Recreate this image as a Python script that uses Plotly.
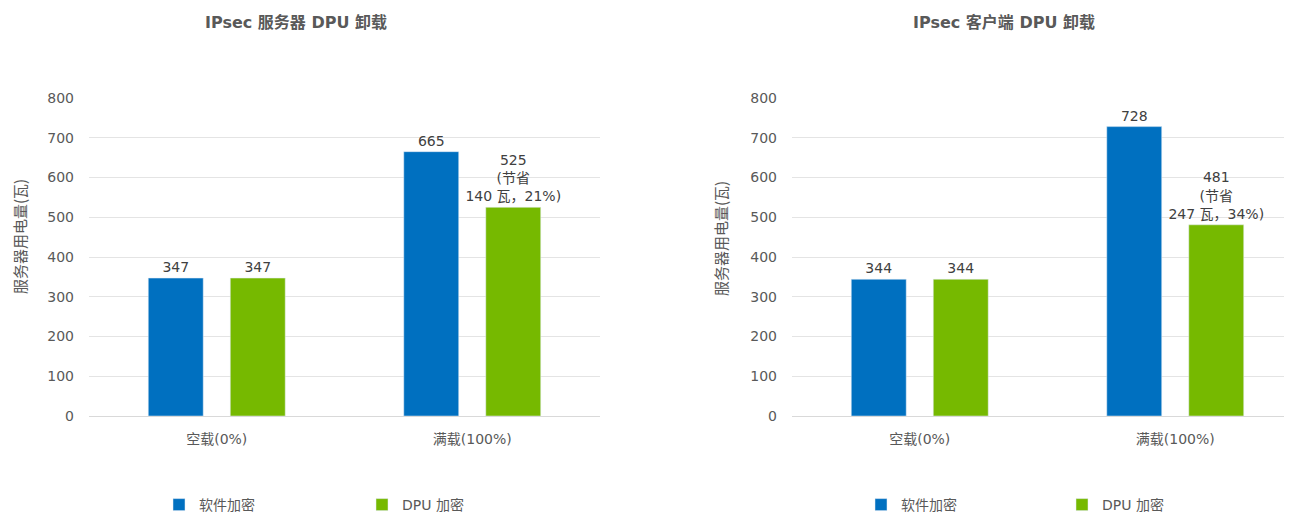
import plotly.graph_objects as go

categories = ["空载(0%)", "满载(100%)"]
series_names = ["软件加密", "DPU 加密"]
colors = ["#0070C0", "#76B900"]

server_sw = [347, 665]
server_dpu = [347, 525]
server_dpu_labels = ["347", "525<br>(节省<br>140 瓦，21%)"]

client_sw = [344, 728]
client_dpu = [344, 481]
client_dpu_labels = ["344", "481<br>(节省<br>247 瓦，34%)"]

titles = ["IPsec 服务器 DPU 卸载", "IPsec 客户端 DPU 卸载"]
y_title = "服务器用电量(瓦)"
y_ticks = [0, 100, 200, 300, 400, 500, 600, 700, 800]

FONT = "DejaVu Sans, Noto Sans CJK SC"
# page body has an 8px margin; the figure is sized to fill the rest of the window
OFF = 8
W, H = 1292 - OFF, 512 - OFF
label_font = dict(family=FONT, size=14, color="#404040")
tick_font = dict(family=FONT, size=14, color="#595959")


def px(sx):
    return (sx - OFF) / W


def py(sy):
    return 1 - (sy - OFF) / H


fig = go.Figure()


def add(vals, labels, name, color, xa, ya, legend):
    fig.add_trace(go.Bar(
        x=categories, y=vals, name=name, marker_color=color,
        text=labels, textposition="outside", textfont=label_font,
        constraintext="none", cliponaxis=False, xaxis=xa, yaxis=ya,
        legend=legend, showlegend=True, hoverinfo="skip",
    ))


add(server_sw, [str(v) for v in server_sw], series_names[0], colors[0], "x", "y", "legend")
add(server_dpu, server_dpu_labels, series_names[1], colors[1], "x", "y", "legend")
add(client_sw, [str(v) for v in client_sw], series_names[0], colors[0], "x2", "y2", "legend2")
add(client_dpu, client_dpu_labels, series_names[1], colors[1], "x2", "y2", "legend2")

ydom = [py(416), py(98)]
xdom1 = [px(89), px(600)]
xdom2 = [px(792), 1.0]
cat_w = 255.5
r2 = -0.5 + (1292 - 792) / cat_w

xax = dict(showgrid=False, showline=False, ticks="", tickfont=tick_font,
           ticklabelstandoff=13, fixedrange=True, automargin=False)
yax = dict(range=[0, 800], tickvals=y_ticks, showgrid=True, gridcolor="#E4E4E4", gridwidth=1,
           zeroline=True, zerolinecolor="#D9D9D9", zerolinewidth=1, showline=False,
           tickfont=tick_font, ticklabelstandoff=14, fixedrange=True, automargin=False)

leg = dict(orientation="h", y=py(505), xanchor="left", yanchor="middle",
           entrywidthmode="pixels", font=dict(family=FONT, size=14, color="#595959"),
           itemclick=False, itemdoubleclick=False, bgcolor="rgba(0,0,0,0)", tracegroupgap=0)

fig.update_layout(
    width=W, height=H,
    margin=dict(l=0, r=0, t=0, b=0, autoexpand=False),
    paper_bgcolor="white", plot_bgcolor="white",
    font=dict(family=FONT, color="#595959"),
    barmode="group", bargap=0.358, bargroupgap=0.33,
    xaxis=dict(domain=xdom1, range=[-0.5, 1.5], anchor="y", **xax),
    yaxis=dict(domain=ydom, anchor="x", **yax),
    xaxis2=dict(domain=xdom2, range=[-0.5, r2], anchor="y2", **xax),
    yaxis2=dict(domain=ydom, anchor="x2", **yax),
    legend=dict(x=px(159), entrywidth=158, **leg),
    legend2=dict(x=px(861), entrywidth=156, **leg),
    showlegend=True,
)

title_font = dict(family="DejaVu Sans, Noto Sans CJK SC", size=16, color="#595959")
ytitle_font = dict(family="Noto Sans CJK SC", size=15, color="#595959")
common = dict(xref="paper", yref="paper", showarrow=False, xanchor="center", yanchor="middle")
annotations = [
    dict(text=f"<b>{titles[0]}</b>", x=px(296), y=py(22), font=title_font, **common),
    dict(text=f"<b>{titles[1]}</b>", x=px(1004), y=py(22), font=title_font, **common),
    dict(text=y_title, x=px(20), y=py(237), textangle=-90, font=ytitle_font, **common),
    dict(text=y_title, x=px(721), y=py(239), textangle=-90, font=ytitle_font, **common),
]
fig.update_layout(annotations=annotations)

fig.write_html("out.html")
